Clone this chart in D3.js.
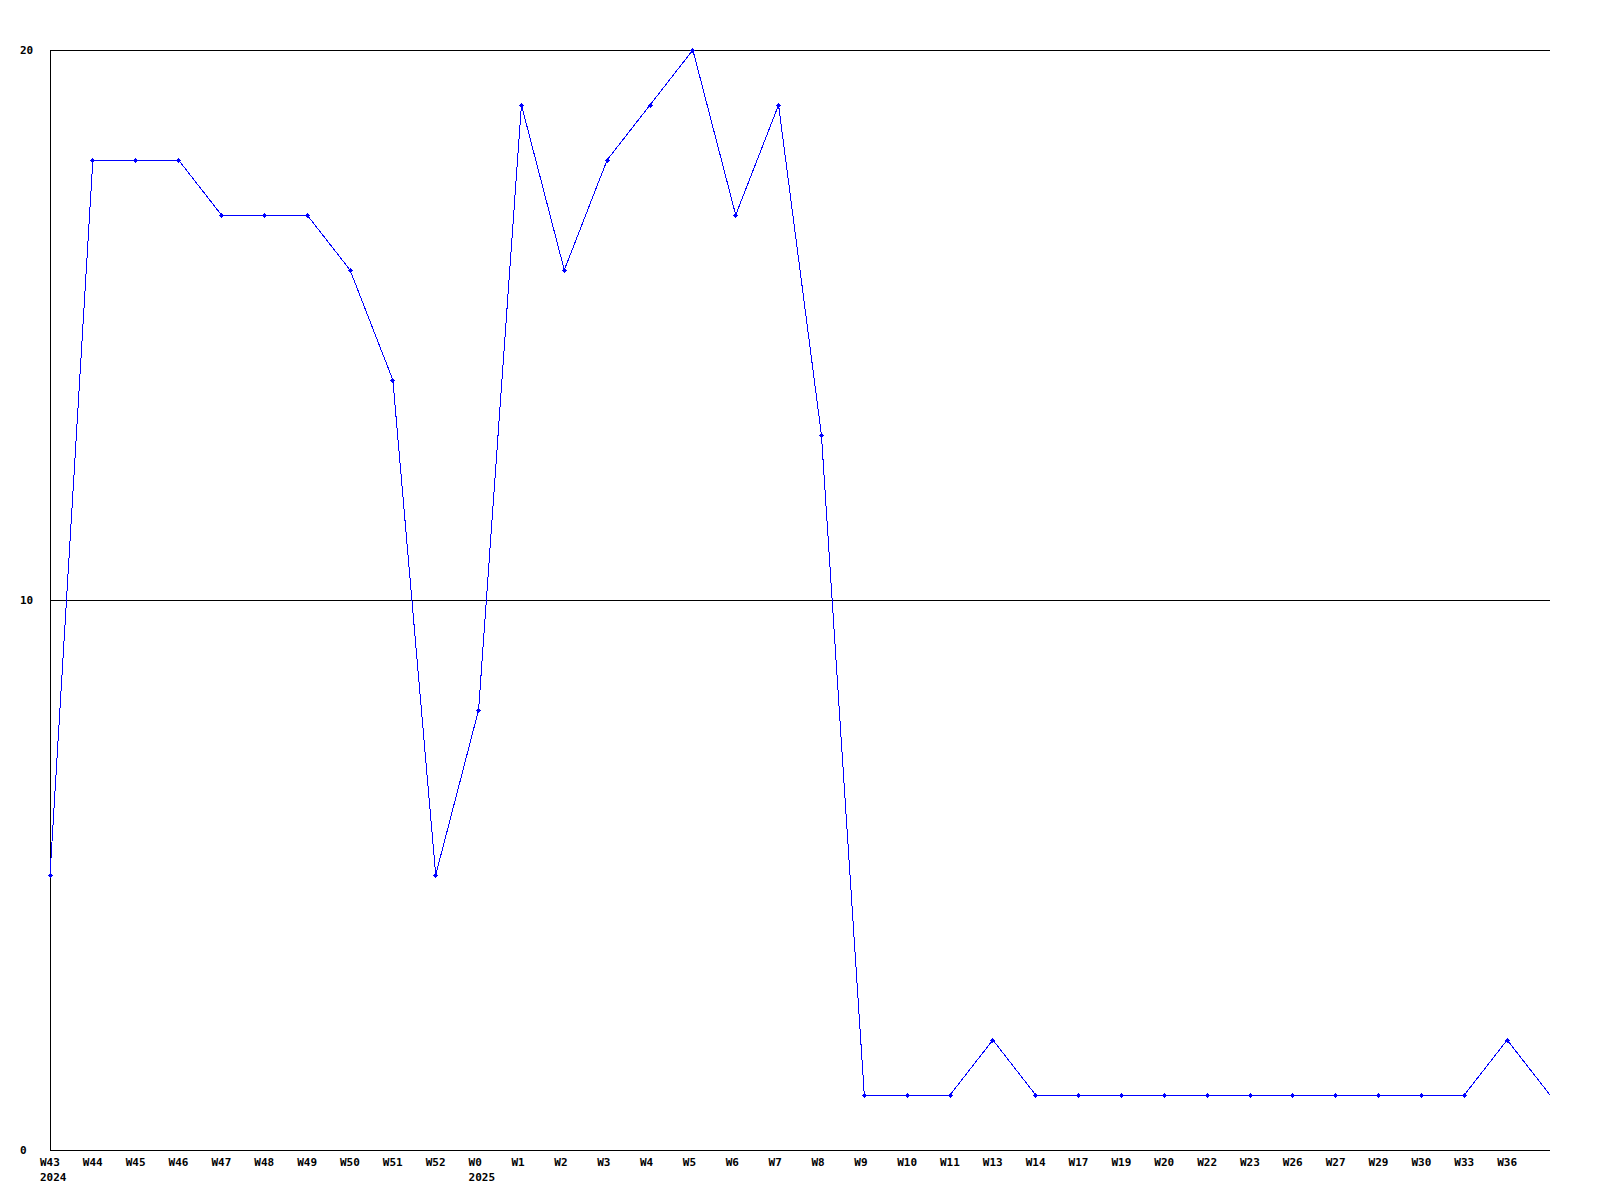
<!DOCTYPE html>
<html>
<head>
<meta charset="utf-8">
<script src="https://cdn.jsdelivr.net/npm/d3@7"></script>
<style>
  body { margin: 0; background: #fff; }
  text { font-family: "DejaVu Sans Mono", monospace; font-weight: bold; font-size: 11px; }
</style>
</head>
<body>
<div id="chart"></div>
<script>
const weeks = ["W43","W44","W45","W46","W47","W48","W49","W50","W51","W52","W0","W1","W2","W3","W4","W5","W6","W7","W8","W9","W10","W11","W13","W14","W17","W19","W20","W22","W23","W26","W27","W29","W30","W33","W36",""];
const years = {"W43": "2024", "W0": "2025"};
const values = [5,18,18,18,17,17,17,16,14,5,8,19,16,18,19,20,17,19,13,1,1,1,2,1,1,1,1,1,1,1,1,1,1,1,2,1];
const yTicks = [0, 10, 20];

const margin = { top: 50, right: 50, bottom: 50, left: 50 };
const width = 1500;
const height = 1100;

const data = weeks.map((w, i) => ({ i: i, week: w, v: values[i] }));

const x = d3.scaleLinear()
  .domain([0, weeks.length - 1])
  .range([0, width]);

const y = d3.scaleLinear()
  .domain([0, 20])
  .range([height, 0]);

const svg = d3.select("#chart")
  .append("svg")
    .attr("width", 1600)
    .attr("height", 1200)
  .append("g")
    .attr("transform", `translate(${margin.left},${margin.top})`);

// horizontal grid lines
svg.selectAll(".grid")
  .data(yTicks.filter(d => d > 0))
  .join("line")
    .attr("x1", 0)
    .attr("x2", width)
    .attr("y1", d => y(d) + 0.5)
    .attr("y2", d => y(d) + 0.5)
    .attr("stroke", "#000")
    .attr("shape-rendering", "crispEdges");

// axes
svg.append("line")
  .attr("x1", 0.5).attr("x2", 0.5)
  .attr("y1", 0).attr("y2", height)
  .attr("stroke", "#000")
  .attr("shape-rendering", "crispEdges");
svg.append("line")
  .attr("x1", 0).attr("x2", width)
  .attr("y1", height + 0.5).attr("y2", height + 0.5)
  .attr("stroke", "#000")
  .attr("shape-rendering", "crispEdges");

// y labels
svg.selectAll(".ylab")
  .data(yTicks)
  .join("text")
    .attr("x", -30)
    .attr("y", d => y(d) + 4)
    .text(d => d);

// x labels
svg.selectAll(".xlab")
  .data(data.filter(d => d.week))
  .join("text")
    .attr("x", d => x(d.i) - 10)
    .attr("y", height + 16)
    .text(d => d.week);

svg.selectAll(".yearlab")
  .data(data.filter(d => years[d.week]))
  .join("text")
    .attr("x", d => x(d.i) - 10)
    .attr("y", height + 31)
    .text(d => years[d.week]);

const line = d3.line()
  .x(d => x(d.i))
  .y(d => y(d.v));

svg.append("path")
  .datum(data)
  .attr("fill", "none")
  .attr("stroke", "#0000ff")
  .attr("stroke-width", 1)
  .attr("shape-rendering", "crispEdges")
  .attr("d", line);

// small point markers
svg.selectAll(".pt")
  .data(data.slice(0, -1))
  .join("path")
    .attr("transform", d => `translate(${x(d.i)},${y(d.v)})`)
    .attr("d", "M-1.5,-1.5H1.5V1.5H-1.5Z M-0.5,-2.5H0.5V2.5H-0.5Z M-2.5,-0.5H2.5V0.5H-2.5Z")
    .attr("fill", "#0000ff")
    .attr("shape-rendering", "crispEdges");
</script>
</body>
</html>
